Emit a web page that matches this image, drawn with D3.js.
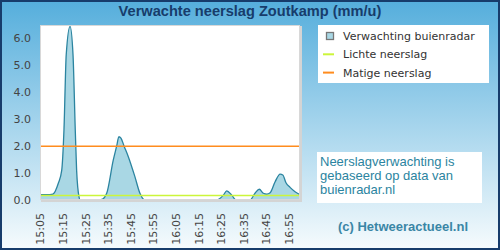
<!DOCTYPE html>
<html>
<head>
<meta charset="utf-8">
<script src="https://cdn.jsdelivr.net/npm/d3@7"></script>
<style>
  html, body { margin: 0; padding: 0; background: #fff; }
  svg { display: block; }
</style>
</head>
<body>
<svg id="chart"></svg>
<script>
// Forecast data (minutes after 15:05, mm/u)
const rainMinutes = [0, 3.1, 5.7, 8.1, 9.6, 10.6, 11.6, 13.3, 14.6, 15.6, 16.2, 17.3, 17.8,
    25.2, 27.3, 29.5, 32.4, 33.9, 34.9, 35.8, 37.2, 39.1, 42.0, 44.2, 46.4,
    78.2, 81.1, 82.6, 84.8, 86.7, 92.9, 95.1, 97.0, 98.8, 100.3, 101.8, 104.0,
    106.2, 107.4, 108.8, 110.6, 112.8, 115];
const rainValues = [0.2, 0.2, 0.22, 0.62, 1.1, 2.6, 5.4, 6.45, 5.4, 2.6, 1.1, 0.1, 0,
    0, 0.02, 0.25, 1.48, 2.0, 2.35, 2.3, 2.0, 1.6, 0.86, 0.25, 0,
    0, 0.18, 0.34, 0.18, 0, 0, 0.25, 0.4, 0.25, 0.22, 0.27, 0.68,
    0.96, 0.93, 0.64, 0.47, 0.31, 0.2];

const timeLabels = ["15:05", "15:15", "15:25", "15:35", "15:45", "15:55",
    "16:05", "16:15", "16:25", "16:35", "16:45", "16:55"];
const yTicks = [0, 1, 2, 3, 4, 5, 6];

const lightRain = 0.17;
const moderateRain = 2.0;

const legendLabels = ["Verwachting buienradar", "Lichte neerslag", "Matige neerslag"];

const colors = {
    area: "#a9d7e4",
    line: "#2b84a0",
    light: "#ccf53a",
    moderate: "#ff8c1e",
    title: "#173c6b",
    text: "#444",
    info: "#2b84a0"
};

const width = 500, height = 250;
const plot = { left: 40, right: 300, top: 25, bottom: 200 };

function toMinutes(label) {
    const [h, m] = label.split(":").map(Number);
    return (h * 60 + m) - (15 * 60 + 5);
}

const svg = d3.select("#chart")
    .attr("width", width)
    .attr("height", height);

// background gradient
const defs = svg.append("defs");
const grad = defs.append("linearGradient")
    .attr("id", "bg")
    .attr("x1", 0).attr("y1", 0).attr("x2", 0).attr("y2", 1);
grad.append("stop").attr("offset", "0%").attr("stop-color", "#55aedc");
grad.append("stop").attr("offset", "100%").attr("stop-color", "#f6fbfd");

defs.append("clipPath").attr("id", "plotClip")
    .append("rect")
    .attr("x", plot.left).attr("y", plot.top)
    .attr("width", plot.right - plot.left)
    .attr("height", plot.bottom - plot.top);

svg.append("rect")
    .attr("x", 1).attr("y", 1)
    .attr("width", width - 2).attr("height", height - 2)
    .attr("fill", "url(#bg)")
    .attr("stroke", "#173c6b")
    .attr("stroke-width", 2);

// title
svg.append("text")
    .attr("x", 250).attr("y", 16)
    .attr("text-anchor", "middle")
    .style("font-family", "'Liberation Sans', Arial, sans-serif")
    .style("font-weight", "bold")
    .style("font-size", "14.6px")
    .attr("fill", colors.title)
    .text("Verwachte neerslag Zoutkamp (mm/u)");

// scales
const x = d3.scaleLinear()
    .domain([0, 115])
    .range([plot.left, plot.right]);

const y = d3.scaleLinear()
    .domain([0, 6.5])
    .range([plot.bottom, plot.top]);

// plot area shadow + background
svg.append("rect")
    .attr("x", plot.left + 1).attr("y", plot.top + 1)
    .attr("width", plot.right - plot.left + 1)
    .attr("height", plot.bottom - plot.top + 1)
    .attr("fill", "#d4d4d4");
svg.append("rect")
    .attr("x", plot.left).attr("y", plot.top)
    .attr("width", plot.right - plot.left)
    .attr("height", plot.bottom - plot.top)
    .attr("fill", "#fff");

const data = rainMinutes.map((m, i) => ({ m: m, v: rainValues[i] }));

const g = svg.append("g").attr("clip-path", "url(#plotClip)");

g.append("path")
    .datum(data)
    .attr("fill", colors.area)
    .attr("d", d3.area()
        .x(d => x(d.m))
        .y0(y(0))
        .y1(d => y(d.v))
        .curve(d3.curveMonotoneX));

g.append("path")
    .datum(data)
    .attr("fill", "none")
    .attr("stroke", colors.line)
    .attr("stroke-width", 1.3)
    .attr("d", d3.line()
        .x(d => x(d.m))
        .y(d => y(d.v))
        .curve(d3.curveMonotoneX));

// threshold lines
g.append("line")
    .attr("x1", plot.left).attr("x2", plot.right)
    .attr("y1", y(lightRain)).attr("y2", y(lightRain))
    .attr("stroke", colors.light)
    .attr("stroke-width", 1.5);

g.append("line")
    .attr("x1", plot.left).attr("x2", plot.right)
    .attr("y1", y(moderateRain)).attr("y2", y(moderateRain))
    .attr("stroke", colors.moderate)
    .attr("stroke-width", 1.5);

// plot border
svg.append("rect")
    .attr("x", plot.left + 0.5).attr("y", plot.top + 0.5)
    .attr("width", plot.right - plot.left - 1)
    .attr("height", plot.bottom - plot.top - 1)
    .attr("fill", "none")
    .attr("stroke", "#d8d8d8");

// y axis
const yAxis = svg.append("g")
    .attr("transform", `translate(${plot.left - 3},0)`)
    .call(d3.axisLeft(y)
        .tickValues(yTicks)
        .tickSize(0)
        .tickPadding(6)
        .tickFormat(d3.format(".1f")));
yAxis.select(".domain").remove();
yAxis.selectAll("text")
    .style("font-family", "'DejaVu Sans', sans-serif")
    .style("font-size", "11px")
    .attr("fill", colors.text);

// x axis
const xAxis = svg.append("g")
    .attr("transform", `translate(0,${plot.bottom})`)
    .call(d3.axisBottom(x)
        .tickValues(timeLabels.map(toMinutes))
        .tickSize(0)
        .tickFormat((d, i) => timeLabels[i]));
xAxis.select(".domain").remove();
xAxis.selectAll("text")
    .style("font-family", "'DejaVu Sans', sans-serif")
    .style("font-size", "11px")
    .attr("fill", colors.text)
    .attr("text-anchor", "end")
    .attr("transform", "rotate(-90)")
    .attr("x", -13)
    .attr("y", 0)
    .attr("dy", "0.35em");

// legend
const legend = svg.append("g").attr("transform", "translate(318,25)");
legend.append("rect")
    .attr("width", 171).attr("height", 58)
    .attr("fill", "#fff");

legendLabels.forEach((label, i) => {
    const item = legend.append("g")
        .attr("transform", `translate(0, ${11 + i * 18.3})`);
    if (i === 0) {
        item.append("rect")
            .attr("x", 8.5).attr("y", -3.5)
            .attr("width", 7).attr("height", 7)
            .attr("fill", colors.area)
            .attr("stroke", "#777")
            .attr("stroke-width", 1.3);
    } else {
        item.append("line")
            .attr("x1", 5).attr("x2", 16)
            .attr("y1", 0).attr("y2", 0)
            .attr("stroke", i === 1 ? colors.light : colors.moderate)
            .attr("stroke-width", 2);
    }
    item.append("text")
        .attr("x", 25).attr("y", 4)
        .style("font-family", "'DejaVu Sans', sans-serif")
        .style("font-size", "11px")
        .attr("fill", "#333")
        .text(label);
});

// info box
const infoLines = ["Neerslagverwachting is", "gebaseerd op data van", "buienradar.nl"];
svg.append("rect")
    .attr("x", 317).attr("y", 152)
    .attr("width", 165).attr("height", 51)
    .attr("fill", "#fff");
svg.append("g").selectAll("text")
    .data(infoLines)
    .join("text")
    .attr("x", 320)
    .attr("y", (d, i) => 166 + i * 14)
    .style("font-family", "'Liberation Sans', Arial, sans-serif")
    .style("font-size", "13px")
    .attr("fill", colors.info)
    .text(d => d);

svg.append("text")
    .attr("x", 403).attr("y", 231)
    .attr("text-anchor", "middle")
    .style("font-family", "'Liberation Sans', Arial, sans-serif")
    .style("font-weight", "bold")
    .style("font-size", "13px")
    .attr("fill", "#3a86a6")
    .text("(c) Hetweeractueel.nl");
</script>
</body>
</html>
